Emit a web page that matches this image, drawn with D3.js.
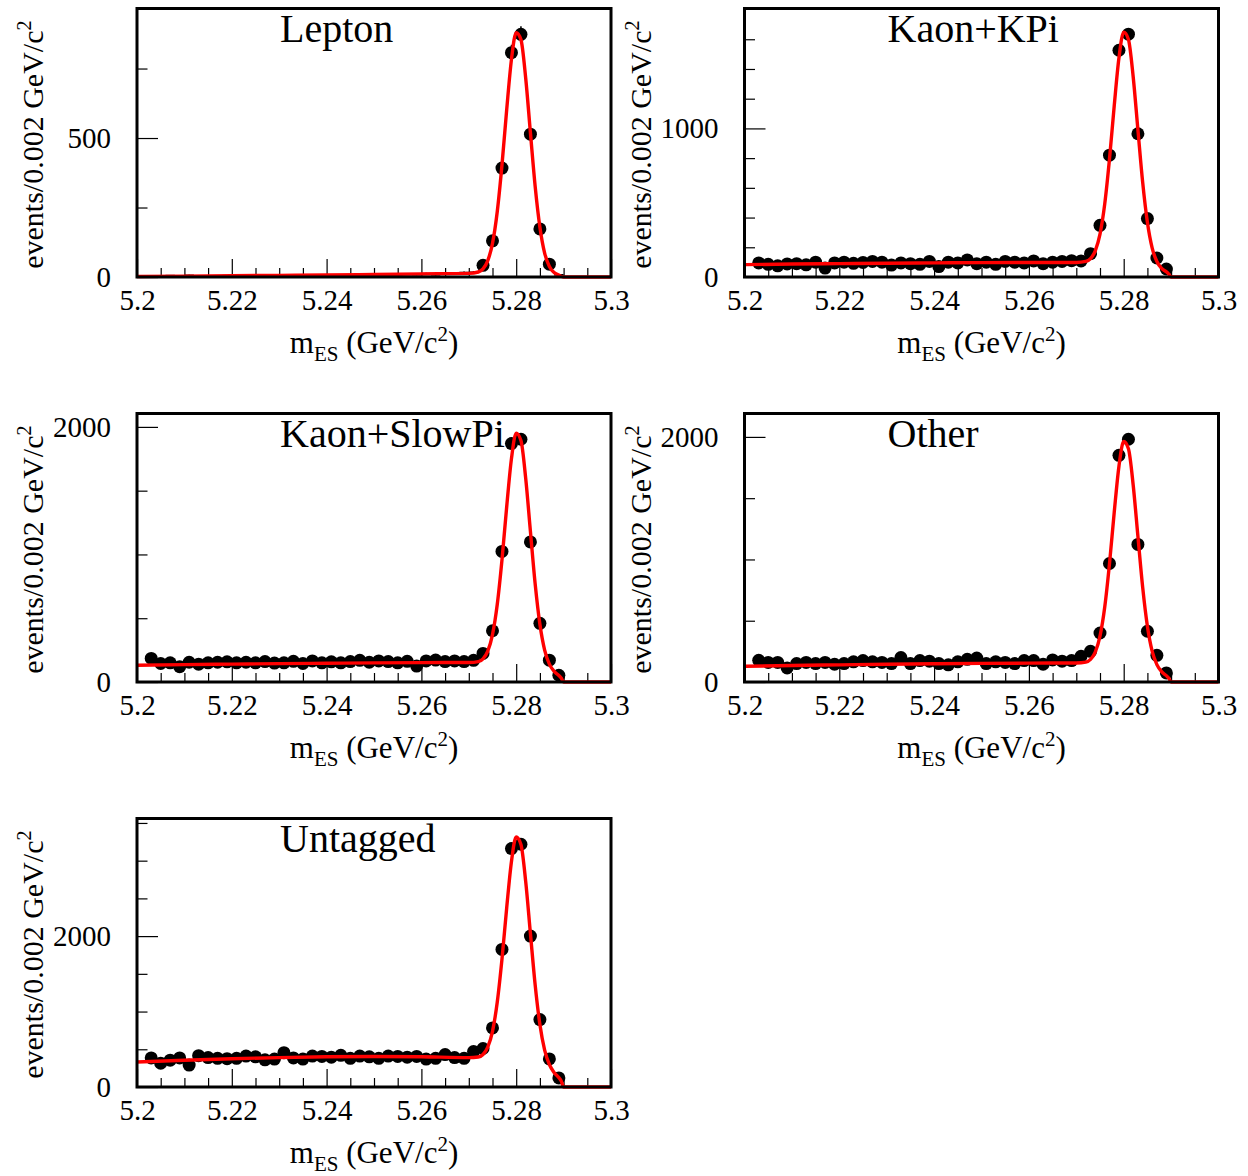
<!DOCTYPE html>
<html>
<head>
<meta charset="utf-8">
<script src="https://cdn.jsdelivr.net/npm/d3@7"></script>
<style>
  body { margin: 0; background: #fff; }
  svg { font-family: "Liberation Serif", "DejaVu Serif", "Times New Roman", serif; }
</style>
</head>
<body>
<div id="chart"></div>
<script>
// bin centres of the mES histograms (0.002 GeV/c^2 bins)
const binCenters = [5.203, 5.205, 5.207, 5.209, 5.211, 5.213, 5.215, 5.217, 5.219, 5.221,
  5.223, 5.225, 5.227, 5.229, 5.231, 5.233, 5.235, 5.237, 5.239, 5.241,
  5.243, 5.245, 5.247, 5.249, 5.251, 5.253, 5.255, 5.257, 5.259, 5.261,
  5.263, 5.265, 5.267, 5.269, 5.271, 5.273, 5.275, 5.277, 5.279, 5.281,
  5.283, 5.285, 5.287, 5.289]

// events per bin
const leptonCounts = [3, 2, 5, 4, 6, 3, 4, 2, 5, 3, 8, 4, 5, 6, 3, 7, 5, 6, 8, 6,
  7, 5, 8, 7, 9, 6, 8, 10, 9, 12, 8, 14, 13, 16, 17,
  42, 130, 392, 807, 873, 514, 173, 46, 8]
const kaonKPiCounts = [95, 85, 75, 88, 90, 82, 100, 60, 95, 100, 92, 98, 105, 100, 80, 95, 90, 85, 105, 70,
  100, 95, 115, 90, 100, 85, 105, 100, 95, 108, 90, 100, 105, 110, 108,
  157, 348, 820, 1526, 1634, 964, 393, 128, 54]
const kaonSlowPiCounts = [185, 145, 150, 120, 155, 140, 150, 155, 158, 150, 155, 150, 160, 148, 150, 162, 145, 165, 150, 158,
  150, 160, 170, 155, 165, 160, 150, 162, 125, 165, 172, 160, 165, 160, 170,
  224, 402, 1024, 1869, 1903, 1098, 460, 171, 53]
const otherCounts = [177, 160, 160, 115, 150, 160, 150, 160, 145, 150, 165, 175, 165, 160, 150, 200, 150, 175, 170, 150,
  140, 165, 185, 195, 150, 165, 160, 150, 175, 175, 145, 180, 170, 175, 210,
  250, 400, 967, 1850, 1981, 1123, 414, 218, 74]
const untaggedCounts = [385, 315, 355, 385, 290, 415, 390, 380, 375, 380, 410, 400, 360, 370, 455, 385, 370, 410, 405, 395,
  420, 380, 410, 400, 380, 410, 405, 395, 405, 370, 380, 430, 390, 380, 470,
  510, 783, 1823, 3160, 3218, 2000, 894, 372, 120]

// fitted curve (red), sampled from the plots
const fitX = [5.2, 5.21, 5.22, 5.23, 5.24, 5.25, 5.26, 5.27,
  5.272, 5.273, 5.274, 5.275, 5.276, 5.277, 5.278, 5.279, 5.28, 5.281,
  5.282, 5.283, 5.284, 5.285, 5.286, 5.287, 5.288, 5.289, 5.2895, 5.29, 5.3]
const leptonFit = [2, 3, 5, 6, 7, 9, 11, 13,
  18, 29, 59, 121, 235, 403, 603, 783, 879, 854,
  716, 519, 326, 179, 86, 38, 16, 7, 2.7, 0, 0]
const kaonKPiFit = [83, 87, 90, 93, 95, 97, 98, 98,
  105, 124, 176, 288, 492, 793, 1152, 1475, 1648, 1599,
  1348, 990, 638, 368, 196, 104, 58, 35, 20, 0, 0]
const kaonSlowPiFit = [131, 136, 140, 144, 147, 150, 152, 153,
  160, 182, 242, 372, 608, 958, 1376, 1751, 1951, 1893,
  1598, 1181, 769, 452, 250, 140, 83, 51, 31, 0, 0]
const otherFit = [128, 135, 140, 145, 149, 152, 154, 155,
  162, 184, 244, 374, 612, 964, 1384, 1761, 1962, 1903,
  1608, 1188, 774, 455, 252, 142, 84, 52, 32, 0, 0]
const untaggedFit = [332, 355, 375, 390, 400, 405, 400, 390,
  398, 431, 528, 738, 1123, 1695, 2378, 2990, 3314, 3214,
  2726, 2035, 1353, 827, 488, 298, 192, 124, 80, 0, 0]

// names, axis ranges and ticks
const panelNames = ['Lepton', 'Kaon+KPi', 'Kaon+SlowPi', 'Other', 'Untagged']
const yMaxes = [966, 1807, 2105, 2191, 3559]
const yMajorTicks = [[0, 500], [0, 1000], [0, 2000], [0, 2000], [0, 2000]]
const yMinorTicks = [[250, 750],
  [200, 400, 600, 800, 1200, 1400, 1600],
  [500, 1000, 1500],
  [500, 1000, 1500],
  [500, 1000, 1500, 2500, 3000, 3500]]
const xMajorTicks = [5.2, 5.22, 5.24, 5.26, 5.28, 5.3]
const xTickLabels = ['5.2', '5.22', '5.24', '5.26', '5.28', '5.3']
const xMinorTicks = [5.205, 5.21, 5.215, 5.225, 5.23, 5.235, 5.245, 5.25, 5.255,
  5.265, 5.27, 5.275, 5.285, 5.29, 5.295]

const countsList = [leptonCounts, kaonKPiCounts, kaonSlowPiCounts, otherCounts, untaggedCounts]
const fitList = [leptonFit, kaonKPiFit, kaonSlowPiFit, otherFit, untaggedFit]

// chart setting
const chart = { width: 1248, height: 1176 }
const frame = { left: 137, top: 8.5, width: 474, height: 268.5, colStep: 607.5, rowStep: 405 }
const halfBin = 0.001
const markerMin = 20   // bins below this show only the bin-width dash

const svg = d3.select('#chart')
  .append('svg')
  .attr('width', chart.width)
  .attr('height', chart.height)

panelNames.forEach((name, i) => drawPanel(name, i))

function styleAxis(sel, fontSize) {
  sel.select('.domain').remove()
  sel.attr('font-family', null).attr('font-size', fontSize)
  sel.selectAll('line').attr('stroke', '#000').attr('stroke-width', 1.2)
  sel.selectAll('text').attr('fill', '#000')
}

function drawPanel(name, i) {
  const col = i % 2
  const row = Math.floor(i / 2)
  const W = frame.width, H = frame.height

  const base = svg.append('g')
    .attr('transform', `translate(${frame.left + col * frame.colStep}, ${frame.top + row * frame.rowStep})`)

  const xScale = d3.scaleLinear().domain([5.2, 5.3]).range([0, W])
  const yScale = d3.scaleLinear().domain([0, yMaxes[i]]).range([H, 0])

  // axes (ticks point inside the frame)
  base.append('g')
    .attr('transform', `translate(0, ${H})`)
    .call(d3.axisBottom(xScale).tickValues(xMinorTicks).tickSize(-9).tickFormat(''))
    .call(s => styleAxis(s, 29))
  base.append('g')
    .attr('transform', `translate(0, ${H})`)
    .call(d3.axisBottom(xScale).tickValues(xMajorTicks).tickSize(-18).tickPadding(12)
      .tickFormat((d, k) => xTickLabels[k]))
    .call(s => styleAxis(s, 29))

  base.append('g')
    .call(d3.axisLeft(yScale).tickValues(yMinorTicks[i]).tickSize(-10.5).tickFormat(''))
    .call(s => styleAxis(s, 29))
  base.append('g')
    .call(d3.axisLeft(yScale).tickValues(yMajorTicks[i]).tickSize(-21).tickPadding(26)
      .tickFormat(d3.format('d')))
    .call(s => styleAxis(s, 29))

  // data points with error bars
  const pts = binCenters.map((c, k) => ({ x: c, n: countsList[i][k] }))
  const pg = base.append('g').attr('class', 'points')
  pg.selectAll('line.hbar')
    .data(pts)
    .join('line')
    .attr('class', 'hbar')
    .attr('x1', d => xScale(d.x - halfBin))
    .attr('x2', d => xScale(d.x + halfBin))
    .attr('y1', d => yScale(d.n))
    .attr('y2', d => yScale(d.n))
    .attr('stroke', '#000')
    .attr('stroke-width', 1.6)
  pg.selectAll('line.vbar')
    .data(pts)
    .join('line')
    .attr('class', 'vbar')
    .attr('x1', d => xScale(d.x))
    .attr('x2', d => xScale(d.x))
    .attr('y1', d => yScale(d.n - Math.sqrt(d.n)))
    .attr('y2', d => yScale(d.n + Math.sqrt(d.n)))
    .attr('stroke', '#000')
    .attr('stroke-width', 1.5)
  pg.selectAll('circle')
    .data(pts.filter(d => d.n >= markerMin))
    .join('circle')
    .attr('cx', d => xScale(d.x))
    .attr('cy', d => yScale(d.n))
    .attr('r', 6.5)
    .attr('fill', '#000')

  // fit curve
  const lineGenerator = d3.line()
    .x(d => xScale(d[0]))
    .y(d => yScale(d[1]))
    .curve(d3.curveMonotoneX)
  base.append('path')
    .attr('d', lineGenerator(fitX.map((v, k) => [v, fitList[i][k]])))
    .attr('fill', 'none')
    .attr('stroke', '#ff0000')
    .attr('stroke-width', 3.4)

  // frame
  base.append('rect')
    .attr('width', W)
    .attr('height', H)
    .attr('fill', 'none')
    .attr('stroke', '#000')
    .attr('stroke-width', 3)

  // panel title
  base.append('text')
    .attr('x', 143)
    .attr('y', 33.5)
    .attr('font-size', 40)
    .text(name)

  // x title
  const xt = base.append('text')
    .attr('x', W / 2)
    .attr('y', H + 76)
    .attr('text-anchor', 'middle')
    .attr('font-size', 31)
  xt.append('tspan').text('m')
  xt.append('tspan').attr('font-size', 21).attr('dy', 8).text('ES')
  xt.append('tspan').attr('dy', -8).text(' (GeV/c')
  xt.append('tspan').attr('font-size', 21).attr('dy', -12).text('2')
  xt.append('tspan').attr('dy', 12).text(')')

  // y title
  const yt = base.append('text')
    .attr('transform', 'translate(-94, 12) rotate(-90)')
    .attr('text-anchor', 'end')
    .attr('font-size', 30)
  yt.append('tspan').text('events/0.002 GeV/c')
  yt.append('tspan').attr('font-size', 20).attr('dy', -12).text('2')
}
</script>
</body>
</html>
